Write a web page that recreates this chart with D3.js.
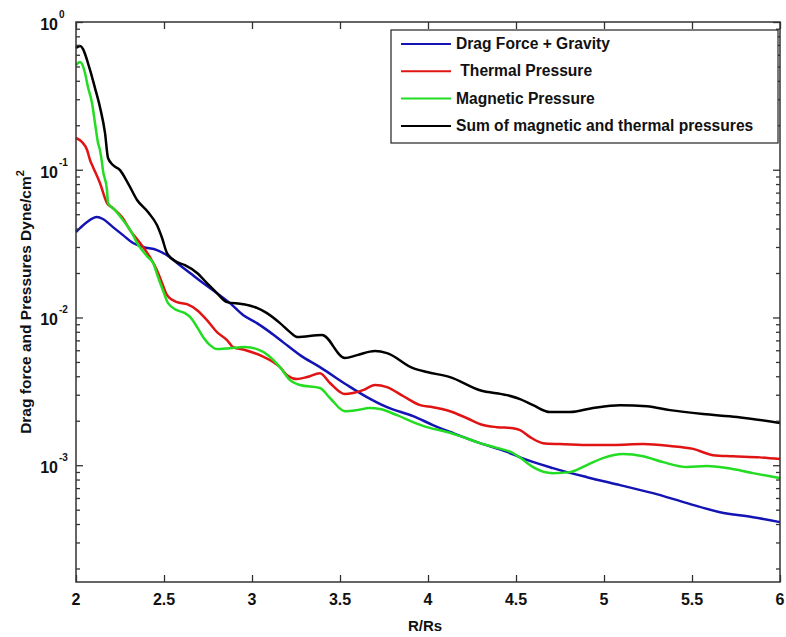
<!DOCTYPE html>
<html>
<head>
<meta charset="utf-8">
<script src="https://cdn.jsdelivr.net/npm/d3@7"></script>
<style>
  body { margin: 0; background: #fff; }
  text { font-family: "Liberation Sans", Arial, sans-serif; font-weight: bold; fill: #111; }
  .axis path { display: none; }
  .axis line { stroke: #333; stroke-width: 1.3; }
</style>
</head>
<body>
<div id="chart"></div>
<script>
// data (x = R/Rs, value in dyne/cm^2)
var dragX = [2.000, 2.023, 2.063, 2.119, 2.153, 2.210, 2.267, 2.324, 2.381, 2.460, 2.517, 2.574, 2.648, 2.722, 2.801, 2.875, 2.949, 3.028, 3.102, 3.176, 3.273, 3.386, 3.540, 3.653, 3.767, 3.915, 4.028, 4.142, 4.295, 4.449, 4.523, 4.710, 4.903, 5.091, 5.278, 5.472, 5.659, 5.847, 6.000];
var dragY = [0.0379, 0.0403, 0.0443, 0.0478, 0.0464, 0.0409, 0.0361, 0.0319, 0.0300, 0.0286, 0.0264, 0.0234, 0.0200, 0.0171, 0.0146, 0.0125, 0.0104, 0.00916, 0.00796, 0.00681, 0.00556, 0.00461, 0.00349, 0.00289, 0.00247, 0.00215, 0.00187, 0.00165, 0.00141, 0.00123, 0.00113, 0.000956, 0.000830, 0.000733, 0.000647, 0.000554, 0.000481, 0.000445, 0.000412];

var thermX = [2.000, 2.034, 2.063, 2.080, 2.097, 2.136, 2.176, 2.210, 2.261, 2.307, 2.364, 2.420, 2.460, 2.489, 2.517, 2.574, 2.631, 2.688, 2.744, 2.801, 2.858, 2.892, 2.960, 3.057, 3.159, 3.199, 3.256, 3.313, 3.386, 3.443, 3.528, 3.574, 3.631, 3.699, 3.767, 3.858, 3.955, 4.028, 4.125, 4.222, 4.313, 4.392, 4.483, 4.523, 4.580, 4.653, 4.750, 4.903, 5.051, 5.222, 5.375, 5.506, 5.619, 5.733, 5.886, 6.000];
var thermY = [0.164, 0.154, 0.136, 0.116, 0.104, 0.0813, 0.0595, 0.0550, 0.0478, 0.0390, 0.0319, 0.0256, 0.0209, 0.0171, 0.0142, 0.0127, 0.0123, 0.0112, 0.00960, 0.00796, 0.00703, 0.00630, 0.00602, 0.00548, 0.00461, 0.00407, 0.00383, 0.00395, 0.00420, 0.00360, 0.00303, 0.00308, 0.00322, 0.00349, 0.00338, 0.00294, 0.00255, 0.00247, 0.00232, 0.00208, 0.00187, 0.00181, 0.00178, 0.00173, 0.00155, 0.00141, 0.00139, 0.00137, 0.00137, 0.00139, 0.00135, 0.00129, 0.00117, 0.00115, 0.00113, 0.00110];

var magX = [2.000, 2.023, 2.034, 2.051, 2.068, 2.091, 2.108, 2.125, 2.136, 2.148, 2.153, 2.176, 2.182, 2.222, 2.267, 2.318, 2.347, 2.375, 2.409, 2.438, 2.466, 2.494, 2.523, 2.574, 2.619, 2.648, 2.688, 2.722, 2.761, 2.801, 2.875, 2.960, 3.028, 3.091, 3.159, 3.216, 3.273, 3.386, 3.443, 3.528, 3.597, 3.670, 3.727, 3.824, 3.915, 3.994, 4.108, 4.199, 4.295, 4.392, 4.483, 4.534, 4.597, 4.710, 4.807, 4.903, 4.994, 5.108, 5.222, 5.335, 5.472, 5.585, 5.699, 5.847, 6.000];
var magY = [0.511, 0.536, 0.520, 0.452, 0.363, 0.283, 0.207, 0.152, 0.136, 0.111, 0.0995, 0.0729, 0.0595, 0.0533, 0.0456, 0.0373, 0.0319, 0.0286, 0.0256, 0.0234, 0.0188, 0.0153, 0.0125, 0.0112, 0.0107, 0.0101, 0.00861, 0.00737, 0.00650, 0.00611, 0.00620, 0.00630, 0.00611, 0.00556, 0.00461, 0.00377, 0.00349, 0.00333, 0.00285, 0.00232, 0.00236, 0.00244, 0.00240, 0.00218, 0.00196, 0.00181, 0.00168, 0.00155, 0.00141, 0.00131, 0.00121, 0.00110, 0.000971, 0.000884, 0.000898, 0.001002, 0.001117, 0.001189, 0.00115, 0.001049, 0.000971, 0.000986, 0.000956, 0.000884, 0.000818];

var sumX = [2.000, 2.023, 2.080, 2.108, 2.136, 2.165, 2.182, 2.210, 2.250, 2.295, 2.347, 2.409, 2.460, 2.489, 2.517, 2.574, 2.619, 2.688, 2.744, 2.801, 2.858, 2.949, 3.028, 3.085, 3.159, 3.216, 3.256, 3.398, 3.528, 3.597, 3.699, 3.767, 3.915, 3.994, 4.125, 4.295, 4.449, 4.523, 4.597, 4.693, 4.807, 4.938, 5.091, 5.244, 5.375, 5.563, 5.756, 6.000];
var sumY = [0.667, 0.688, 0.473, 0.357, 0.266, 0.177, 0.120, 0.1076, 0.0995, 0.0813, 0.0624, 0.0517, 0.0422, 0.0345, 0.0273, 0.0237, 0.0226, 0.0200, 0.0171, 0.0146, 0.0127, 0.0123, 0.0116, 0.0107, 0.00916, 0.00796, 0.00737, 0.00760, 0.00531, 0.00556, 0.00592, 0.00574, 0.00454, 0.00427, 0.00395, 0.00322, 0.00298, 0.00280, 0.00255, 0.00229, 0.00229, 0.00244, 0.00255, 0.00251, 0.00236, 0.00222, 0.00212, 0.00193];

var seriesNames = ["Drag Force + Gravity", " Thermal Pressure", "Magnetic Pressure", "Sum of magnetic and thermal pressures"];
var seriesColors = ["#1414b4", "#e01414", "#22dd22", "#000000"];

var xTicks = [2, 2.5, 3, 3.5, 4, 4.5, 5, 5.5, 6];
var yMajor = [1e-3, 1e-2, 1e-1, 1];
var yExp = ["-3", "-2", "-1", "0"];

// layout
var m = {left: 76, right: 6, top: 22, bottom: 55};
var W = 786, H = 637;
var w = W - m.left - m.right;
var h = H - m.top - m.bottom;

var svg = d3.select("#chart")
  .append("svg")
  .attr("width", W)
  .attr("height", H)
  .append("g")
  .attr("transform", "translate(" + m.left + "," + m.top + ")");

var x = d3.scaleLinear().domain([2, 6]).range([0, w]);
var y = d3.scaleLog().domain([1.62e-4, 1]).range([h, 0]);

var yMinor = y.ticks().filter(function(v) {
  return yMajor.indexOf(v) < 0 && v >= 1.62e-4;
});

// lines
var series = [
  {xs: dragX, ys: dragY},
  {xs: thermX, ys: thermY},
  {xs: magX, ys: magY},
  {xs: sumX, ys: sumY}
];

var line = d3.line()
  .x(function(d) { return x(d[0]); })
  .y(function(d) { return y(d[1]); })
  .curve(d3.curveMonotoneX);

series.forEach(function(s, i) {
  var pts = s.xs.map(function(v, j) { return [v, s.ys[j]]; });
  svg.append("path")
    .datum(pts)
    .attr("fill", "none")
    .attr("stroke", seriesColors[i])
    .attr("stroke-width", 2.5)
    .attr("stroke-linejoin", "round")
    .attr("d", line);
});

// axes: ticks point inward on all four sides
svg.append("g").attr("class", "axis")
  .attr("transform", "translate(0," + h + ")")
  .call(d3.axisBottom(x).tickValues(xTicks).tickSize(-7).tickFormat(""));
svg.append("g").attr("class", "axis")
  .call(d3.axisTop(x).tickValues(xTicks).tickSize(-7).tickFormat(""));
svg.append("g").attr("class", "axis")
  .call(d3.axisLeft(y).tickValues(yMajor).tickSize(-7).tickFormat(""));
svg.append("g").attr("class", "axis")
  .call(d3.axisLeft(y).tickValues(yMinor).tickSize(-4).tickFormat(""));
svg.append("g").attr("class", "axis")
  .attr("transform", "translate(" + w + ",0)")
  .call(d3.axisRight(y).tickValues(yMajor).tickSize(-7).tickFormat(""));
svg.append("g").attr("class", "axis")
  .attr("transform", "translate(" + w + ",0)")
  .call(d3.axisRight(y).tickValues(yMinor).tickSize(-4).tickFormat(""));

// frame
svg.append("rect")
  .attr("width", w).attr("height", h)
  .attr("fill", "none")
  .attr("stroke", "#333")
  .attr("stroke-width", 1.5);

// x tick labels
svg.selectAll(".xlab")
  .data(xTicks)
  .enter().append("text")
  .attr("x", function(d) { return x(d); })
  .attr("y", h + 23)
  .attr("text-anchor", "middle")
  .style("font-size", "16px")
  .text(function(d) { return d; });

// y tick labels: 10 with superscript exponent
var ylab = svg.selectAll(".ylab")
  .data(yMajor)
  .enter().append("g")
  .attr("transform", function(d) { return "translate(-18," + (y(d) + 8) + ")"; });
ylab.append("text")
  .attr("text-anchor", "end")
  .style("font-size", "16px")
  .text("10");
ylab.append("text")
  .attr("x", 1)
  .attr("y", -12)
  .style("font-size", "10px")
  .text(function(d, i) { return yExp[i]; });

// axis titles
svg.append("text")
  .attr("x", w / 2 - 3)
  .attr("y", h + 49)
  .attr("text-anchor", "middle")
  .style("font-size", "15px")
  .text("R/Rs");

var yt = svg.append("text")
  .attr("transform", "translate(" + (31 - m.left) + "," + (h / 2) + ") rotate(-90)")
  .attr("text-anchor", "middle")
  .style("font-size", "15.5px");
yt.append("tspan").text("Drag force and Pressures Dyne/cm");
yt.append("tspan").attr("dy", -7).style("font-size", "11px").text("2");

// legend
var lg = svg.append("g")
  .attr("transform", "translate(" + (391 - m.left) + "," + (30 - m.top) + ")");
lg.append("rect")
  .attr("width", 387).attr("height", 113)
  .attr("fill", "#fff")
  .attr("stroke", "#222")
  .attr("stroke-width", 1.2);
seriesNames.forEach(function(name, i) {
  var yy = 14 + i * 27.3;
  lg.append("line")
    .attr("x1", 10).attr("x2", 60)
    .attr("y1", yy).attr("y2", yy)
    .attr("stroke", seriesColors[i])
    .attr("stroke-width", 2);
  lg.append("text")
    .attr("x", 65)
    .attr("y", yy + 5)
    .attr("xml:space", "preserve")
    .style("white-space", "pre")
    .style("font-size", "15.6px")
    .text(name);
});
</script>
</body>
</html>
